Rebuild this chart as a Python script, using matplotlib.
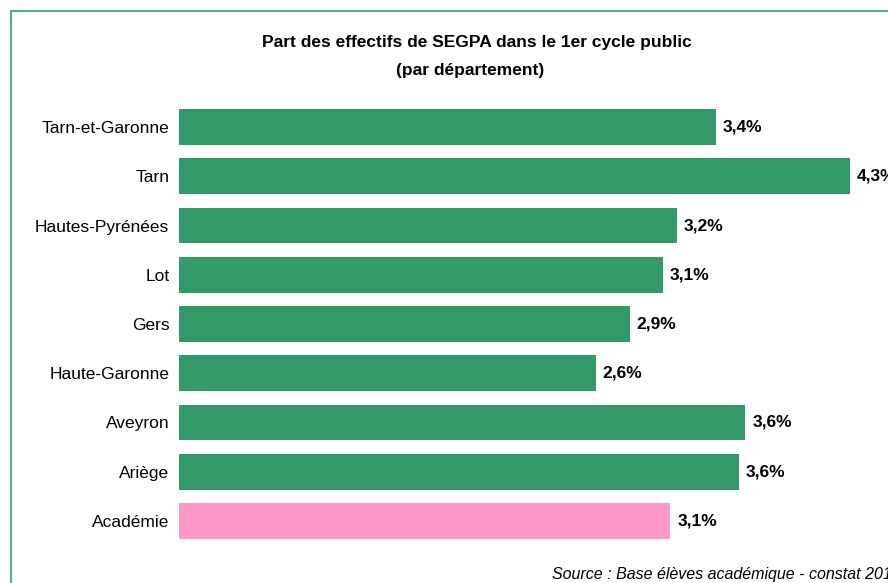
import matplotlib
matplotlib.use("Agg")
import matplotlib.pyplot as plt
from matplotlib.patches import Rectangle
from matplotlib import font_manager

# données (ordre du haut vers le bas)
departements = ["Tarn-et-Garonne", "Tarn", "Hautes-Pyrénées", "Lot", "Gers",
                "Haute-Garonne", "Aveyron", "Ariège", "Académie"]
parts = [3.44, 4.30, 3.19, 3.10, 2.89, 2.67, 3.63, 3.59, 3.15]
etiquettes = ["3,4%", "4,3%", "3,2%", "3,1%", "2,9%", "2,6%", "3,6%", "3,6%", "3,1%"]

VERT = "#339966"
ROSE = "#FF99CC"
couleurs = [VERT] * (len(departements) - 1) + [ROSE]

# police étroite façon Arial Narrow si dispo
noms = {f.name for f in font_manager.fontManager.ttflist}
famille = "Liberation Sans Narrow" if "Liberation Sans Narrow" in noms else "Liberation Sans"
plt.rcParams["font.family"] = [famille, "DejaVu Sans"]

W, H = 888, 583
fig = plt.figure(figsize=(W / 100, H / 100), dpi=100)

# cadre vert (coupé à droite et en bas, comme l'original)
fig.patches.append(Rectangle((10.5 / W, -0.2), 1.2, 1.2 - 10.5 / H,
                             transform=fig.transFigure, fill=False,
                             edgecolor="#4DB380", linewidth=1.5))

left, right = 179 / W, 1.0
top, bottom = 1 - 102.4 / H, 1 - 545.6 / H
ax = fig.add_axes([left, bottom, right - left, top - bottom])
y = list(range(len(departements)))
ax.barh(y, parts, height=0.73, color=couleurs)
ax.set_ylim(len(departements) - 0.5, -0.5)
ax.set_xlim(0, (W - 179) / 156)
ax.set_yticks(y)
ax.set_yticklabels(departements, fontsize=12.5)
ax.tick_params(axis="y", length=0, pad=7)
ax.set_xticks([])
for s in ax.spines.values():
    s.set_visible(False)

for yi, v, lab in zip(y, parts, etiquettes):
    ax.text(v + 0.045, yi, lab, va="center", ha="left", fontsize=12.5,
            fontweight="bold", clip_on=False)

fig.text(477 / W, 1 - 43 / H, "Part des effectifs de SEGPA dans le 1er cycle public",
         ha="center", va="center", fontsize=12.5, fontweight="bold")
fig.text(470 / W, 1 - 71 / H, "(par département)",
         ha="center", va="center", fontsize=12.5, fontweight="bold")
fig.text(552 / W, 1 - 575 / H, "Source : Base élèves académique - constat 2012",
         ha="left", va="center", fontsize=11.5, style="italic")

fig.savefig("out.png", dpi=100)
